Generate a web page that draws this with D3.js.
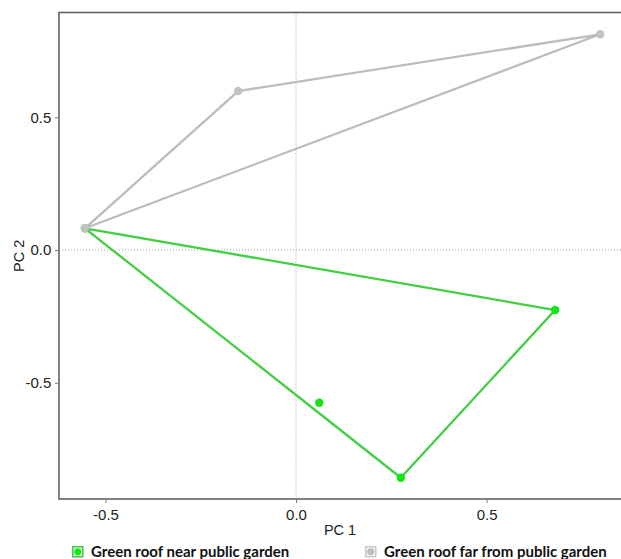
<!DOCTYPE html>
<html>
<head>
<meta charset="utf-8">
<script src="https://cdn.jsdelivr.net/npm/d3@7"></script>
<style>
  body { margin: 0; background: #fff; }
  svg { display: block; }
</style>
</head>
<body>
<script>
// PCA scores
var groups = ["Green roof near public garden", "Green roof far from public garden"];
var nearPC1 = [-0.554, 0.680, 0.275, 0.061];
var nearPC2 = [0.082, -0.226, -0.858, -0.575];
var farPC1 = [-0.554, -0.152, 0.798];
var farPC2 = [0.082, 0.599, 0.813];

var xTicks = [-0.5, 0, 0.5];
var xTickLabels = ["-0.5", "0.0", "0.5"];
var yTicks = [-0.5, 0, 0.5];
var yTickLabels = ["-0.5", "0.0", "0.5"];

var width = 621;
var height = 559;

// plot box (note: "top" is taken by window.top, so use other names)
var plotL = 59, plotT = 12.5, plotR = 623, plotB = 499;

var xScale = d3.scaleLinear()
               .domain([-0.622, 0.858])
               .range([plotL, plotR]);

var yScale = d3.scaleLinear()
               .domain([-0.938, 0.895])
               .range([plotB, plotT]);

var svg = d3.select("body")
            .append("svg")
            .attr("width", width)
            .attr("height", height);

// zero lines
svg.append("line")
   .attr("x1", xScale(0)).attr("x2", xScale(0))
   .attr("y1", plotT).attr("y2", plotB)
   .attr("stroke", "#9a9a9a")
   .attr("stroke-width", 1)
   .attr("stroke-dasharray", "1,2");

svg.append("line")
   .attr("x1", plotL).attr("x2", plotR)
   .attr("y1", yScale(0)).attr("y2", yScale(0))
   .attr("stroke", "#9a9a9a")
   .attr("stroke-width", 1)
   .attr("stroke-dasharray", "1,2");

var near = nearPC1.map(function(d, i){ return [d, nearPC2[i]]; });
var far = farPC1.map(function(d, i){ return [d, farPC2[i]]; });

var greenLine = "#40cf40";
var greenDot = "#12e612";
var grayLine = "#bcbcbc";
var grayDot = "#c2c2c2";

function hullPath(pts){
  var hull = d3.polygonHull(pts);
  return "M" + hull.map(function(p){
    return xScale(p[0]) + "," + yScale(p[1]);
  }).join("L") + "Z";
}

svg.append("path")
   .attr("d", hullPath(far))
   .attr("fill", "none")
   .attr("stroke", grayLine)
   .attr("stroke-width", 2.3)
   .attr("stroke-linejoin", "round");

svg.append("path")
   .attr("d", hullPath(near))
   .attr("fill", "none")
   .attr("stroke", greenLine)
   .attr("stroke-width", 2.3)
   .attr("stroke-linejoin", "round");

svg.selectAll("circle.near")
   .data(near)
   .enter()
   .append("circle")
   .attr("class", "near")
   .attr("cx", function(d){ return xScale(d[0]); })
   .attr("cy", function(d){ return yScale(d[1]); })
   .attr("r", 4.2)
   .attr("fill", greenDot);

svg.selectAll("circle.far")
   .data(far)
   .enter()
   .append("circle")
   .attr("class", "far")
   .attr("cx", function(d){ return xScale(d[0]); })
   .attr("cy", function(d){ return yScale(d[1]); })
   .attr("r", 4.2)
   .attr("fill", grayDot);

// frame
svg.append("rect")
   .attr("x", plotL).attr("y", plotT)
   .attr("width", plotR - plotL).attr("height", plotB - plotT)
   .attr("fill", "none")
   .attr("stroke", "#5a5a5a")
   .attr("stroke-width", 1.5);

var xAxis = d3.axisBottom(xScale)
              .tickValues(xTicks)
              .tickSize(4)
              .tickFormat(function(d, i){ return xTickLabels[i]; });

var yAxis = d3.axisLeft(yScale)
              .tickValues(yTicks)
              .tickSize(4)
              .tickFormat(function(d, i){ return yTickLabels[i]; });

var gx = svg.append("g")
   .attr("transform", "translate(0," + plotB + ")")
   .call(xAxis);

var gy = svg.append("g")
   .attr("transform", "translate(" + plotL + ",0)")
   .call(yAxis);

[gx, gy].forEach(function(g){
  g.select(".domain").remove();
  g.selectAll("line").attr("stroke", "#777");
  g.selectAll("text")
   .attr("font-family", "Liberation Sans, Arial, sans-serif")
   .attr("font-size", 15)
   .attr("fill", "#222");
});
gx.selectAll("text").attr("dy", "0.9em");
gy.selectAll("text").attr("dx", "-0.05em");

svg.append("text")
   .attr("x", (plotL + 621) / 2)
   .attr("y", 535)
   .attr("text-anchor", "middle")
   .attr("font-family", "Liberation Sans, Arial, sans-serif")
   .attr("font-size", 14.5)
   .attr("fill", "#222")
   .text("PC 1");

svg.append("text")
   .attr("transform", "translate(24," + ((plotT + plotB) / 2) + ") rotate(-90)")
   .attr("text-anchor", "middle")
   .attr("font-family", "Liberation Sans, Arial, sans-serif")
   .attr("font-size", 14.5)
   .attr("fill", "#222")
   .text("PC 2");

// legend
var legend = [
  {x: 72, fill: "#3ccc3c", stroke: "#3ccc3c", dot: "#10ee10", label: groups[0]},
  {x: 365, fill: "#c8c8c8", stroke: "#c8c8c8", dot: "#c0c0c0", label: groups[1]}
];

var lg = svg.selectAll("g.legend")
   .data(legend)
   .enter()
   .append("g")
   .attr("class", "legend")
   .attr("transform", function(d){ return "translate(" + d.x + ",546)"; });

lg.append("rect")
  .attr("width", 11.5).attr("height", 11.5)
  .attr("fill", function(d){ return d.fill; });

lg.append("rect")
  .attr("x", 1.5).attr("y", 1.5)
  .attr("width", 8.5).attr("height", 8.5)
  .attr("fill", "#f4f4f4");

lg.append("circle")
  .attr("cx", 5.75).attr("cy", 5.75).attr("r", 3.6)
  .attr("fill", function(d){ return d.dot; });

lg.append("text")
  .attr("x", 19)
  .attr("y", 11.2)
  .attr("font-family", "Lato, Open Sans, sans-serif")
  .attr("font-weight", "bold")
  .attr("font-size", 15)
  .attr("fill", "#111")
  .text(function(d){ return d.label; });
</script>
</body>
</html>
